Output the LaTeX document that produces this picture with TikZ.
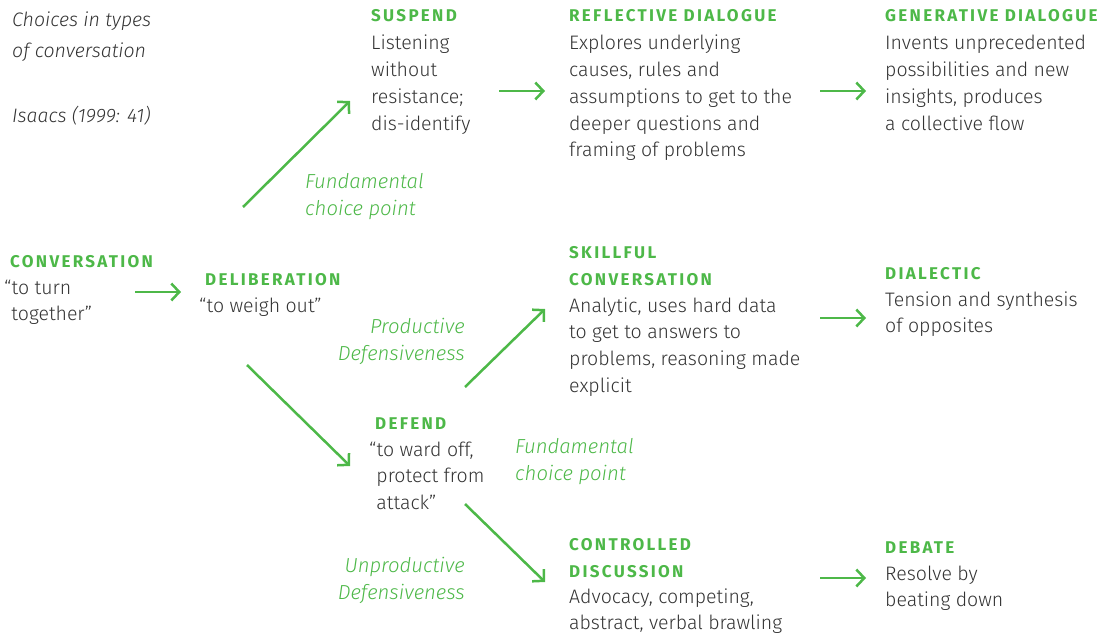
\documentclass[tikz,border=0pt]{standalone}
\usepackage{fontspec}
\setmainfont{Fira Sans}[UprightFont=* Light, ItalicFont=* Light Italic, BoldFont=* Bold]
\usetikzlibrary{arrows.meta}
\definecolor{leafgreen}{HTML}{4DB848}
\definecolor{inkgray}{HTML}{333333}
\newcommand{\blocktext}[1]{\begin{tabular}[t]{@{}l@{}}#1\end{tabular}}
\newcommand{\blockright}[1]{\begin{tabular}[t]{@{}r@{}}#1\end{tabular}}
\newcommand{\oq}{\phantom{“}}

\begin{document}
\begin{tikzpicture}[
				x=1pt,y=-1pt,
				heading/.style={anchor=base west,inner sep=0pt,text=leafgreen,font=\fontsize{17}{27}\selectfont\bfseries\addfontfeatures{LetterSpace=13.5}},
				body/.style={anchor=base west,inner sep=0pt,text=inkgray,font=\fontsize{19.5}{26.7}\selectfont},
				note/.style={anchor=base west,inner sep=0pt,text=leafgreen,font=\fontsize{20.3}{27}\selectfont\itshape},
				flow/.style={draw=leafgreen,line width=2.5pt,-{Straight Barb[length=8pt,width=17pt]}}
				]
				\useasboundingbox (0,0) rectangle (1115,634);
				
				% Titolo
				\node[body,font=\fontsize{19.5}{31}\selectfont\itshape] (title) at (12,27) {\blocktext{Choices in types\\of conversation}};
				\node[body,font=\fontsize{19.5}{31}\selectfont\itshape] (source) at (12,122) {Isaacs (1999: 41)};
				
				% Riga superiore
				\node[heading] (suspendh) at (371,22) {SUSPEND};
				\node[body] (suspend) at (371,50) {\blocktext{Listening\\without\\resistance;\\dis-identify}};
				\node[heading] (reflecth) at (569,22) {REFLECTIVE DIALOGUE};
				\node[body] (reflect) at (569,50) {\blocktext{Explores underlying\\causes, rules and\\assumptions to get to the\\deeper questions and\\framing of problems}};
				\node[heading] (generh) at (885,22) {GENERATIVE DIALOGUE};
				\node[body] (gener) at (885,50) {\blocktext{Invents unprecedented\\possibilities and new\\insights, produces\\a collective flow}};
				\node[note] (choice1) at (305,188) {\blocktext{Fundamental\\choice point}};
				
				% Riga centrale
				\node[heading] (convh) at (10,267) {CONVERSATION};
				\node[body] (conv) at (4,294) {\blocktext{“to turn\\\oq together”}};
				\node[heading] (delibh) at (205,285) {DELIBERATION};
				\node[body] (delib) at (199,312) {“to weigh out”};
				\node[note,anchor=base east] (prod) at (465,333) {\blockright{Productive\\Defensiveness}};
				\node[heading] (skillh) at (569,258) {\blocktext{SKILLFUL\\CONVERSATION}};
				\node[body] (skill) at (569,312) {\blocktext{Analytic, uses hard data\\to get to answers to\\problems, reasoning made\\explicit}};
				\node[heading] (dialh) at (885,279) {DIALECTIC};
				\node[body] (dial) at (885,306) {\blocktext{Tension and synthesis\\of opposites}};
				
				% Riga inferiore
				\node[heading] (defendh) at (375,429) {DEFEND};
				\node[body] (defend) at (369,456) {\blocktext{“to ward off,\\\oq protect from\\\oq attack”}};
				\node[note] (choice2) at (515,453) {\blocktext{Fundamental\\choice point}};
				\node[note,anchor=base east] (unprod) at (465,572) {\blockright{Unproductive\\Defensiveness}};
				\node[heading] (contrh) at (569,550) {\blocktext{CONTROLLED\\DISCUSSION}};
				\node[body] (contr) at (569,603) {\blocktext{Advocacy, competing,\\abstract, verbal brawling}};
				\node[heading] (debateh) at (885,553) {DEBATE};
				\node[body] (debate) at (885,580) {\blocktext{Resolve by\\beating down}};
				
				% Estremi delle frecce
				\coordinate (convout) at (135,292);
				\coordinate (delibin) at (181,292);
				\coordinate (delibup) at (243,207);
				\coordinate (suspendin) at (350,101);
				\coordinate (suspendout) at (499,91);
				\coordinate (reflectin) at (545,91);
				\coordinate (reflectout) at (820,91);
				\coordinate (generin) at (866,91);
				\coordinate (delibdown) at (247,365);
				\coordinate (defendin) at (350,466);
				\coordinate (defendup) at (465,387);
				\coordinate (skillin) at (545,309);
				\coordinate (skillout) at (820,318);
				\coordinate (dialin) at (866,318);
				\coordinate (defenddown) at (465,504);
				\coordinate (contrin) at (545,582);
				\coordinate (controut) at (820,578);
				\coordinate (debatein) at (866,578);
				
				% Connessioni
				\draw[flow] (convout) -- (delibin);
				\draw[flow] (delibup) -- (suspendin);
				\draw[flow] (suspendout) -- (reflectin);
				\draw[flow] (reflectout) -- (generin);
				\draw[flow] (delibdown) -- (defendin);
				\draw[flow] (defendup) -- (skillin);
				\draw[flow] (skillout) -- (dialin);
				\draw[flow] (defenddown) -- (contrin);
				\draw[flow] (controut) -- (debatein);
				
			\end{tikzpicture}
\end{document}
